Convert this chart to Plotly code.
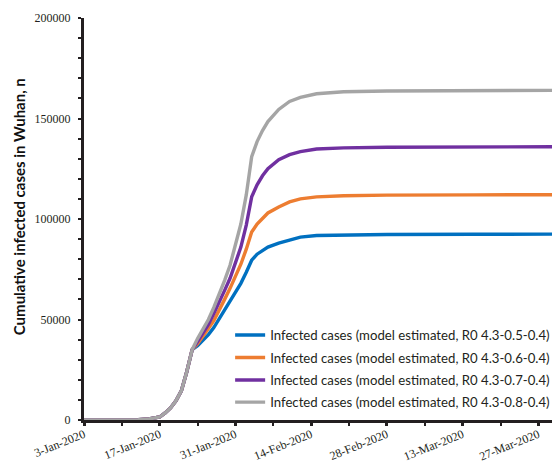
import plotly.graph_objects as go

dates = [
    "2020-01-03", "2020-01-08", "2020-01-13", "2020-01-15", "2020-01-17", "2020-01-18",
    "2020-01-19", "2020-01-20", "2020-01-21", "2020-01-22", "2020-01-23",
    "2020-01-24", "2020-01-25", "2020-01-26", "2020-01-27", "2020-01-28",
    "2020-01-29", "2020-01-30", "2020-01-31", "2020-02-01", "2020-02-02",
    "2020-02-03", "2020-02-04", "2020-02-05", "2020-02-06", "2020-02-08",
    "2020-02-10", "2020-02-12", "2020-02-15", "2020-02-20", "2020-02-28",
    "2020-03-15", "2020-04-01",
]

common = [0, 0, 100, 500, 1500, 3500, 6000, 9500, 14500, 24000, 35000]

blue_tail = [37000, 39500, 42500, 46000, 50500, 54500, 59000, 63500, 68000, 73500,
             79500, 82500, 84500, 86000, 88000, 89500, 91000, 91800, 92100, 92300,
             92400, 92500]
orange_tail = [38000, 41500, 45500, 49500, 54500, 60000, 65500, 71500, 77500, 85000,
               93500, 97500, 100500, 103000, 106000, 108500, 110000, 111000, 111600,
               111900, 112000, 112100]
purple_tail = [39000, 43000, 47500, 53000, 58500, 64500, 70500, 78000, 86000, 97000,
               111000, 117000, 121500, 125000, 129500, 132000, 133500, 134800, 135400,
               135700, 135900, 136000]
gray_tail = [40500, 45000, 50000, 56000, 62500, 69500, 77000, 86500, 97500, 112000,
             131000, 138500, 144000, 148500, 154500, 158500, 160500, 162300, 163300,
             163700, 163900, 164000]

series_names = [
    "Infected cases (model estimated, R0 4.3-0.5-0.4)",
    "Infected cases (model estimated, R0 4.3-0.6-0.4)",
    "Infected cases (model estimated, R0 4.3-0.7-0.4)",
    "Infected cases (model estimated, R0 4.3-0.8-0.4)",
]
series_values = [common + blue_tail, common + orange_tail, common + purple_tail, common + gray_tail]
colors = ["#0070C0", "#ED7D31", "#7030A0", "#A5A5A5"]
legend_ids = ["legend", "legend2", "legend3", "legend4"]
legend_tops = [0.249, 0.193, 0.137, 0.082]

fig = go.Figure()
for name, vals, col, lid in zip(series_names, series_values, colors, legend_ids):
    fig.add_trace(go.Scatter(x=dates, y=vals, mode="lines", name=name, legend=lid,
                             line=dict(color=col, width=3.4)))

tick_font = dict(family="Liberation Serif", size=12, color="#231F20")
legend_font = dict(family="Lato", size=13.2, color="#231F20")

legend_layout = {}
for lid, ytop in zip(legend_ids, legend_tops):
    legend_layout[lid] = dict(x=0.307, y=ytop, xanchor="left", yanchor="top",
                              bgcolor="rgba(0,0,0,0)", borderwidth=0,
                              font=legend_font, tracegroupgap=0, itemwidth=30)

# the page body has an 8px margin, so the figure is sized to end at the window edge
fig.update_layout(
    template="none",
    width=552, height=455,
    margin=dict(l=76, r=0, t=10, b=43, autoexpand=False),
    plot_bgcolor="white", paper_bgcolor="white",
    showlegend=True,
    **legend_layout,
    xaxis=dict(
        type="date", range=["2020-01-03", "2020-03-31"], automargin=False,
        tick0="2020-01-03", dtick=14 * 86400000, tickformat="%-d-%b-%Y",
        tickangle=-22, tickfont=tick_font, ticklabelstandoff=-3,
        showgrid=False, zeroline=False,
        showline=True, linecolor="#231F20", linewidth=3,
        ticks="outside", ticklen=3, tickwidth=2.5, tickcolor="#231F20",
        minor=dict(dtick=7 * 86400000, tick0="2020-01-03", ticks="outside", ticklen=3,
                   tickwidth=2, tickcolor="#231F20", showgrid=False),
    ),
    yaxis=dict(
        range=[0, 200000], dtick=50000, tickformat="d", automargin=False,
        tickfont=tick_font, showgrid=False, zeroline=False,
        showline=True, linecolor="#231F20", linewidth=3,
        ticks="outside", ticklen=3, tickwidth=2, tickcolor="#231F20",
        ticklabelstandoff=5,
        minor=dict(dtick=10000, ticks="outside", ticklen=3, tickwidth=2,
                   tickcolor="#231F20", showgrid=False),
    ),
    annotations=[dict(
        text="<b>Cumulative infected cases in Wuhan, n</b>",
        xref="paper", yref="paper", x=-0.136, y=0.53,
        xanchor="center", yanchor="middle", textangle=-90, showarrow=False,
        font=dict(family="Lato", size=15, color="#111"),
    )],
)

fig.write_html("out.html")
